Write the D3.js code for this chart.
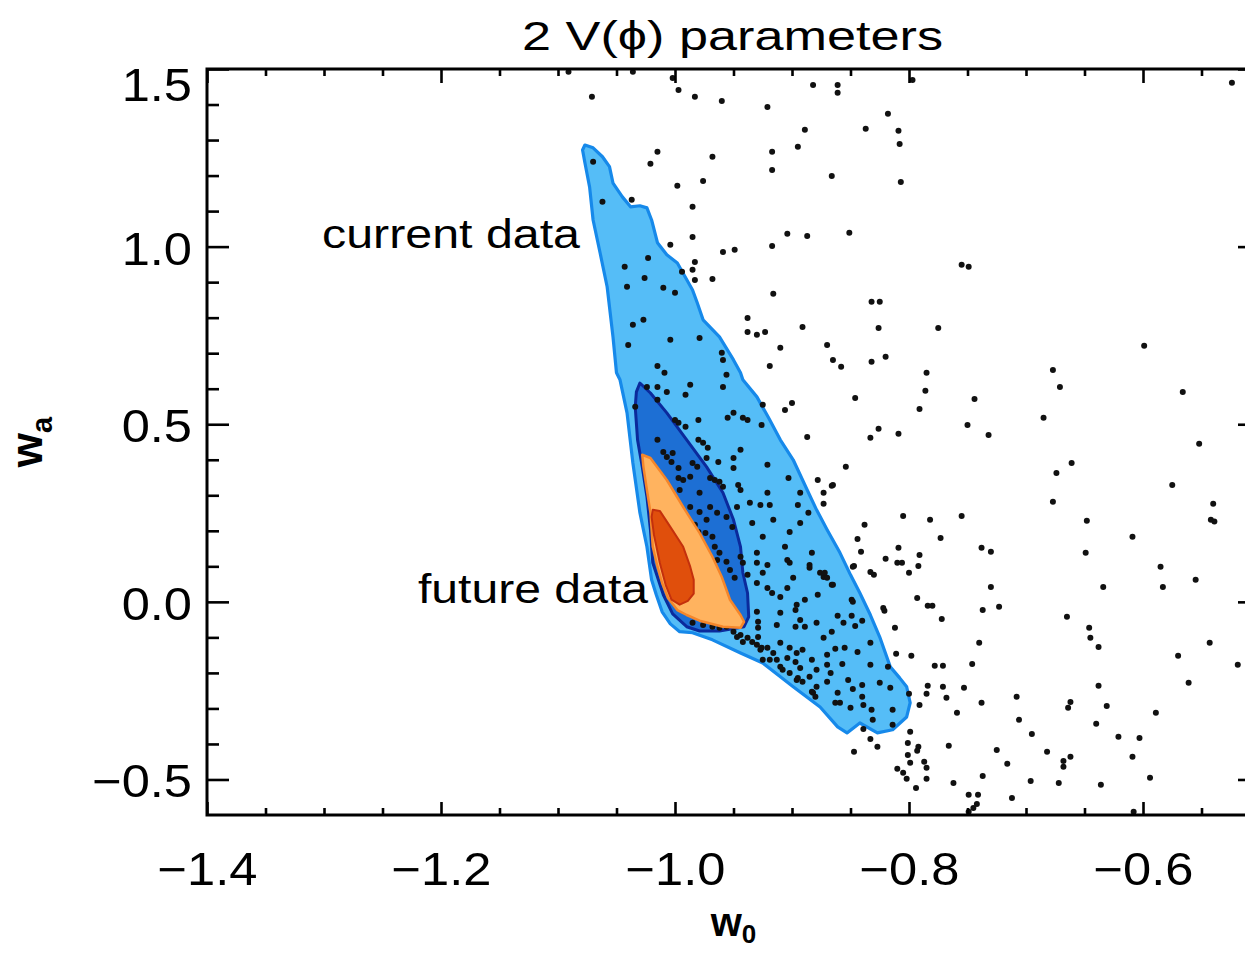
<!DOCTYPE html>
<html>
<head>
<meta charset="utf-8">
<script src="https://cdn.jsdelivr.net/npm/d3@7"></script>
<style>
body{margin:0;background:#fff}
text{font-family:"Liberation Sans",Arial,sans-serif;fill:#000}
</style>
</head>
<body>
<svg id="chart" width="1245" height="953"></svg>
<script>
var xMajorTicks = [-1.4,-1.2,-1.0,-0.8,-0.6]
var xMinorTicks = [-1.35,-1.3,-1.25,-1.15,-1.1,-1.05,-0.95,-0.9,-0.85,-0.75,-0.7,-0.65,-0.55]
var yMajorTicks = [-0.5,0.0,0.5,1.0,1.5]
var yMinorTicks = [-0.4,-0.3,-0.2,-0.1,0.1,0.2,0.3,0.4,0.6,0.7,0.8,0.9,1.1,1.2,1.3,1.4]

var titleText = "2 V(\u03D5) parameters"
var currentLabel = "current data"
var futureLabel = "future data"

// confidence regions, [w0, wa]
var currentOuter = [[-1.077,1.286],[-1.070,1.278],[-1.062,1.253],[-1.056,1.225],[-1.053,1.179],[-1.045,1.140],[-1.038,1.112],[-1.030,1.115],[-1.024,1.109],[-1.020,1.075],[-1.015,1.011],[-1.007,0.977],[-0.998,0.954],[-0.985,0.878],[-0.981,0.842],[-0.976,0.794],[-0.962,0.746],[-0.950,0.681],[-0.944,0.645],[-0.942,0.625],[-0.930,0.577],[-0.920,0.518],[-0.910,0.456],[-0.899,0.400],[-0.887,0.315],[-0.879,0.259],[-0.870,0.203],[-0.859,0.138],[-0.850,0.076],[-0.842,0.025],[-0.833,-0.037],[-0.825,-0.099],[-0.816,-0.183],[-0.808,-0.214],[-0.802,-0.239],[-0.799,-0.284],[-0.802,-0.324],[-0.814,-0.360],[-0.827,-0.369],[-0.842,-0.341],[-0.853,-0.369],[-0.861,-0.352],[-0.876,-0.296],[-0.899,-0.239],[-0.925,-0.172],[-0.944,-0.144],[-0.968,-0.107],[-0.985,-0.087],[-0.996,-0.084],[-1.004,-0.062],[-1.011,-0.028],[-1.016,0.020],[-1.020,0.062],[-1.024,0.155],[-1.030,0.251],[-1.036,0.391],[-1.041,0.532],[-1.047,0.625],[-1.050,0.645],[-1.053,0.746],[-1.058,0.887],[-1.064,0.982],[-1.070,1.075],[-1.073,1.168],[-1.077,1.236],[-1.079,1.272]]
var currentInner = [[-1.030,0.616],[-1.021,0.588],[-1.007,0.532],[-0.990,0.456],[-0.973,0.380],[-0.959,0.307],[-0.950,0.231],[-0.944,0.155],[-0.942,0.082],[-0.938,0.025],[-0.937,-0.042],[-0.941,-0.070],[-0.962,-0.082],[-0.979,-0.082],[-0.990,-0.070],[-1.002,-0.034],[-1.010,0.020],[-1.019,0.110],[-1.021,0.203],[-1.024,0.296],[-1.028,0.380],[-1.032,0.456],[-1.034,0.549],[-1.033,0.591]]
var futureOuter = [[-1.028,0.414],[-1.021,0.405],[-1.007,0.343],[-0.993,0.267],[-0.979,0.194],[-0.968,0.127],[-0.960,0.070],[-0.953,0.006],[-0.944,-0.037],[-0.941,-0.056],[-0.944,-0.073],[-0.959,-0.070],[-0.979,-0.053],[-0.990,-0.037],[-0.998,-0.023],[-1.006,0.011],[-1.011,0.053],[-1.015,0.099],[-1.019,0.155],[-1.021,0.251],[-1.024,0.315],[-1.027,0.380]]
var futureInner = [[-1.019,0.259],[-1.013,0.256],[-1.004,0.211],[-0.993,0.155],[-0.987,0.099],[-0.984,0.062],[-0.984,0.023],[-0.989,0.003],[-0.996,-0.008],[-1.003,0.006],[-1.008,0.048],[-1.013,0.110],[-1.018,0.189],[-1.020,0.239]]

// chain samples, [w0, wa]
var samples = [
[-1.071,1.422],[-1.091,1.492],[-1.036,1.492],[-1.002,1.475],[-0.997,1.441],[-0.983,1.422],[-0.960,1.410],[-0.921,1.393],[-0.882,1.455],[-0.889,1.329],[-0.895,1.281],[-0.917,1.267],[-0.917,1.216],[-0.968,1.253],[-1.015,1.267],[-1.021,1.233],[-0.976,1.185],[-0.998,1.171],[-0.985,1.112],[-1.070,1.239],[-1.062,1.126],[-1.037,1.132],[-0.985,1.027],[-1.004,1.005],[-0.959,0.985],[-0.949,0.991],[-0.917,1.002],[-0.904,1.036],[-0.887,1.030],[-0.994,0.929],[-0.983,0.957],[-0.985,0.935],[-0.983,0.906],[-0.968,0.909],[-0.916,0.867],[-0.938,0.799],[-0.891,0.774],[-1.043,0.943],[-1.023,0.968],[-1.026,0.912],[-1.041,0.887],[-1.010,0.884],[-1.000,0.870],[-1.027,0.794],[-1.036,0.780],[-0.938,0.760],[-0.930,0.752],[-0.923,0.760],[-0.910,0.715],[-0.919,0.664],[-1.040,0.723],[-1.004,0.738],[-0.979,0.743],[-0.960,0.701],[-0.959,0.681],[-1.015,0.664],[-1.009,0.645],[-0.956,0.639],
[-0.861,1.455],[-0.861,1.433],[-0.797,1.469],[-0.818,1.374],[-0.837,1.332],[-0.809,1.326],[-0.808,1.289],[-0.866,1.199],[-0.807,1.182],[-0.851,1.039],[-0.755,0.949],[-0.749,0.943],[-0.832,0.845],[-0.825,0.845],[-0.826,0.771],[-0.775,0.771],[-0.524,1.461],
[-0.870,0.723],[-0.865,0.681],[-0.858,0.662],[-0.832,0.676],[-0.820,0.690],[-0.846,0.574],[-0.785,0.645],[-0.786,0.594],[-0.791,0.543],[-0.826,0.487],[-0.833,0.462],[-0.809,0.473],[-0.744,0.571],[-0.750,0.498],[-0.732,0.470],[-0.677,0.653],[-0.671,0.605],[-0.685,0.518],[-0.599,0.721],[-0.566,0.591],[-0.552,0.445],[-0.854,0.380],[-0.866,0.327],[-0.873,0.307],[-0.873,0.276],[-0.661,0.391],[-0.674,0.363],[-0.677,0.282],[-0.575,0.329],[-0.540,0.276],[-0.542,0.231],[-0.539,0.226],[-0.648,0.228],[-0.609,0.183],[-0.649,0.138],[-0.585,0.099],[-0.583,0.042],[-0.555,0.062],[-0.634,0.042],[-0.665,-0.042],[-0.646,-0.073],[-0.645,-0.101],[-0.638,-0.127],[-0.543,-0.115],[-0.570,-0.152],
[-0.805,0.242],[-0.782,0.231],[-0.755,0.242],[-0.838,0.217],[-0.773,0.180],[-0.844,0.177],[-0.841,0.141],[-0.809,0.152],[-0.791,0.132],[-0.738,0.152],[-0.730,0.141],[-0.820,0.121],[-0.810,0.110],[-0.806,0.110],[-0.847,0.101],[-0.792,0.101],[-0.833,0.084],[-0.830,0.076],[-0.800,0.082],[-0.730,0.042],[-0.793,0.011],[-0.784,-0.011],[-0.780,-0.011],[-0.822,-0.017],[-0.821,-0.025],[-0.723,-0.014],[-0.737,-0.023],[-0.772,-0.048],[-0.812,-0.073],[-0.740,-0.115],[-0.811,-0.146],[-0.798,-0.152],
[-0.873,0.070],[-0.866,0.048],[-0.849,0.006],[-0.861,-0.039],[-0.849,-0.039],[-0.856,-0.059],[-0.846,-0.068],[-0.840,-0.053],[-0.866,-0.084],[-0.873,-0.101],[-0.833,-0.115],[-0.863,-0.132],[-0.855,-0.129],[-0.844,-0.141],[-0.870,-0.149],
[-0.519,-0.177],[-0.561,-0.228],[-0.638,-0.236],[-0.631,-0.293],[-0.589,-0.312],[-0.662,-0.282],[-0.664,-0.298],[-0.640,-0.343],[-0.621,-0.380],[-0.603,-0.383],[-0.609,-0.436],[-0.594,-0.495],[-0.636,-0.515],[-0.672,-0.510],[-0.662,-0.436],[-0.668,-0.448],[-0.668,-0.464],[-0.682,-0.422],[-0.695,-0.372],[-0.706,-0.332],[-0.708,-0.267],[-0.738,-0.284],[-0.753,-0.242],[-0.746,-0.175],[-0.771,-0.239],[-0.768,-0.270],[-0.778,-0.180],[-0.771,-0.180],[-0.784,-0.236],[-0.785,-0.259],[-0.791,-0.290],[-0.800,-0.259],[-0.759,-0.312],[-0.799,-0.366],[-0.801,-0.397],[-0.792,-0.408],[-0.793,-0.419],[-0.801,-0.431],[-0.799,-0.453],[-0.787,-0.450],[-0.785,-0.467],[-0.810,-0.470],[-0.805,-0.481],[-0.802,-0.498],[-0.785,-0.498],[-0.794,-0.524],[-0.833,-0.386],[-0.827,-0.408],[-0.847,-0.422],[-0.839,-0.358],[-0.766,-0.405],[-0.725,-0.417],[-0.716,-0.456],[-0.696,-0.504],[-0.737,-0.490],[-0.762,-0.510],[-0.749,-0.543],[-0.741,-0.543],[-0.742,-0.569],[-0.745,-0.580],[-0.749,-0.591],[-0.712,-0.552],[-0.608,-0.591],
[-0.870,-0.177],[-0.857,-0.175],[-0.833,-0.177],[-0.818,-0.183],[-0.867,-0.200],[-0.852,-0.220],[-0.840,-0.234],[-0.825,-0.228],[-0.816,-0.242],[-0.870,-0.225],[-0.848,-0.245],[-0.861,-0.256],[-0.840,-0.267],[-0.863,-0.284],[-0.859,-0.284],[-0.839,-0.290],[-0.850,-0.298],[-0.832,-0.304],[-0.831,-0.332],[-0.814,-0.304],[-0.814,-0.346],
[-0.930,0.110],[-0.925,0.082],[-0.902,0.110],[-0.899,0.068],[-0.885,0.104],[-0.878,0.020],[-0.930,0.053],[-0.921,0.039],[-0.917,0.025],[-0.904,0.039],[-0.910,0.014],[-0.896,-0.008],[-0.889,0.006],[-0.930,-0.028],[-0.929,-0.056],[-0.910,-0.031],[-0.897,-0.023],[-0.893,-0.051],[-0.889,-0.070],[-0.897,-0.070],[-0.879,-0.059],[-0.913,-0.065],[-0.929,-0.073],[-0.929,-0.099],[-0.927,-0.135],[-0.921,-0.129],[-0.916,-0.144],[-0.910,-0.115],[-0.902,-0.129],[-0.896,-0.144],[-0.891,-0.135],[-0.925,-0.163],[-0.913,-0.163],[-0.904,-0.158],[-0.897,-0.169],[-0.908,-0.191],[-0.893,-0.186],[-0.883,-0.163],[-0.879,-0.191],[-0.885,-0.211],[-0.896,-0.220],[-0.879,-0.239],[-0.882,-0.256],[-0.880,-0.267],
[-0.956,-0.070],[-0.950,-0.084],[-0.944,-0.093],[-0.938,-0.101],[-0.934,-0.113],[-0.942,-0.113],[-0.947,-0.099],[-0.930,-0.121],[-0.926,-0.129],[-0.962,-0.073],[-0.968,-0.070],[-0.976,-0.065],[-0.985,-0.059],[-0.919,-0.163],[-0.910,-0.183],[-0.902,-0.200],[-0.895,-0.214],[-0.891,-0.225],[-0.883,-0.253],
[-0.953,0.090],[-0.949,0.068],[-0.942,0.110],[-0.938,0.076],[-0.876,0.082],[-0.870,0.068],[-0.865,0.048],[-0.848,0.099],[-0.848,0.000],
[-1.024,0.605],[-1.015,0.605],[-1.007,0.591],[-1.015,0.569],[-0.987,0.611],[-0.991,0.583],[-0.959,0.605],[-1.034,0.549],[-1.000,0.512],[-0.997,0.504],[-0.991,0.493],[-0.980,0.512],[-0.955,0.518],[-0.950,0.532],[-0.942,0.518],[-0.938,0.512],[-0.925,0.555],[-0.906,0.540],[-0.900,0.560],[-0.926,0.498],[-0.887,0.464],[-1.015,0.456],[-1.010,0.422],[-1.007,0.408],[-1.002,0.419],[-0.980,0.456],[-0.976,0.448],[-0.972,0.434],[-0.944,0.428],[-0.950,0.405],[-0.963,0.394],[-0.973,0.405],[-0.981,0.380],[-0.985,0.391],[-0.997,0.377],[-1.003,0.394],[-0.950,0.377],[-0.921,0.386],[-0.903,0.349],[-0.878,0.343],[-0.865,0.329],[-0.997,0.349],[-0.993,0.343],[-0.987,0.352],[-0.970,0.349],[-0.966,0.343],[-0.962,0.338],[-0.959,0.324],[-0.979,0.307],[-0.996,0.315],[-0.946,0.329],[-0.944,0.315],[-0.921,0.307],[-0.893,0.307],[-0.895,0.273],[-0.886,0.251],[-0.947,0.267],[-0.936,0.279],[-0.927,0.273],[-0.919,0.273],[-0.987,0.267],[-0.979,0.253],[-0.970,0.267],[-0.964,0.251],[-0.956,0.239],[-0.973,0.231],[-0.983,0.217],[-0.980,0.197],[-0.974,0.194],[-0.968,0.183],[-0.951,0.211],[-0.934,0.222],[-0.916,0.231],[-0.902,0.197],[-0.893,0.222],[-0.925,0.183],[-0.966,0.155],[-0.962,0.138],[-0.956,0.113],[-0.964,0.118],[-0.944,0.127],[-0.930,0.138],[-0.906,0.155],[-0.904,0.118],[-0.883,0.138],[-0.885,0.096],[-0.872,0.082],[-0.921,0.104]
]

var frame = {left:207, right:1260, top:69, bottom:815}
var stretch = 1.1

var x = d3.scaleLinear().domain([-1.4,-0.5]).range([frame.left,frame.right])
var y = d3.scaleLinear().domain([-0.6,1.5]).range([frame.bottom,frame.top])

var svg = d3.select("#chart")

svg.append("clipPath").attr("id","plotclip")
	.append("rect")
		.attr("x",frame.left).attr("y",frame.top)
		.attr("width",frame.right-frame.left).attr("height",frame.bottom-frame.top)

var plot = svg.append("g").attr("clip-path","url(#plotclip)")

var outline = d3.line()
	.x(function(d){ return x(d[0]) })
	.y(function(d){ return y(d[1]) })
	.curve(d3.curveLinearClosed)

function region(pts, fill, stroke, sw){
	plot.append("path")
		.attr("d", outline(pts))
		.attr("fill", fill)
		.attr("stroke", stroke)
		.attr("stroke-width", sw)
		.attr("stroke-linejoin","round")
}

region(currentOuter, "#55bdf7", "#1689ea", 3.2)
region(currentInner, "#1d6fd4", "#0b2a9c", 3)

plot.selectAll(".sample")
	.data(samples)
.enter().append("circle")
	.classed("sample",true)
	.attr("cx", function(d){ return x(d[0]) })
	.attr("cy", function(d){ return y(d[1]) })
	.attr("r", 3)
	.attr("fill","#111")

region(futureOuter, "#ffb35f", "#f5862a", 2.5)
region(futureInner, "#e04f0c", "#c4300c", 2)

// axes, ticks pointing inwards on all four sides
var fmt = d3.format(".1f")

function ticks(axis, pos, vals, size, withLabels){
	var g = svg.append("g").attr("transform", pos)
		.call(axis.tickValues(vals).tickSize(size).tickPadding(0)
			.tickFormat(withLabels ? fmt : ""))
	g.select(".domain").remove()
	g.selectAll("line").attr("stroke","#000").attr("stroke-width",2.6)
	g.selectAll("text").attr("fill","#000")
	return g
}

var atBottom = "translate(0,"+frame.bottom+")", atTop = "translate(0,"+frame.top+")"
var atLeft = "translate("+frame.left+",0)", atRight = "translate("+frame.right+",0)"

var xb = ticks(d3.axisBottom(x), atBottom, xMajorTicks, -13, true)
ticks(d3.axisBottom(x), atBottom, xMinorTicks, -7, false)
ticks(d3.axisTop(x), atTop, xMajorTicks, -14, false)
ticks(d3.axisTop(x), atTop, xMinorTicks, -7, false)
var yl = ticks(d3.axisLeft(y), atLeft, yMajorTicks, -22, true)
ticks(d3.axisLeft(y), atLeft, yMinorTicks, -12, false)
ticks(d3.axisRight(y), atRight, yMajorTicks, -22, false)
ticks(d3.axisRight(y), atRight, yMinorTicks, -12, false)

xb.selectAll("text")
	.attr("font-size",46).attr("font-family",null)
	.attr("y",70).attr("dy",0)
	.attr("transform","scale("+stretch+",1)")

yl.selectAll("text")
	.attr("font-size",46).attr("font-family",null)
	.attr("x",-15/stretch)
	.attr("dy", function(d){ return d==1.5 ? "0.68em" : "0.38em" })
	.attr("transform","scale("+stretch+",1)")

svg.append("rect")
	.attr("x",frame.left).attr("y",frame.top)
	.attr("width",frame.right-frame.left).attr("height",frame.bottom-frame.top)
	.attr("fill","none").attr("stroke","#000").attr("stroke-width",3)

// title and annotations
svg.append("text")
	.attr("x",522).attr("y",50)
	.attr("font-size",41)
	.attr("textLength",421).attr("lengthAdjust","spacingAndGlyphs")
	.text(titleText)

svg.append("text")
	.attr("x",322).attr("y",248)
	.attr("font-size",41)
	.attr("textLength",258).attr("lengthAdjust","spacingAndGlyphs")
	.text(currentLabel)

svg.append("text")
	.attr("x",418).attr("y",603)
	.attr("font-size",41)
	.attr("textLength",230).attr("lengthAdjust","spacingAndGlyphs")
	.text(futureLabel)

var xlab = svg.append("text")
	.attr("x",(frame.left+frame.right)/2).attr("y",936)
	.attr("text-anchor","middle")
	.attr("font-size",40).attr("font-weight","bold")
xlab.append("tspan").text("w")
xlab.append("tspan").attr("font-size",26).attr("dy",7).text("0")

var ylab = svg.append("text")
	.attr("transform","translate(42,"+((frame.top+frame.bottom)/2)+") rotate(-90)")
	.attr("text-anchor","middle")
	.attr("font-size",44).attr("font-weight","bold")
ylab.append("tspan").text("w")
ylab.append("tspan").attr("font-size",29).attr("dy",10).text("a")
</script>
</body>
</html>
